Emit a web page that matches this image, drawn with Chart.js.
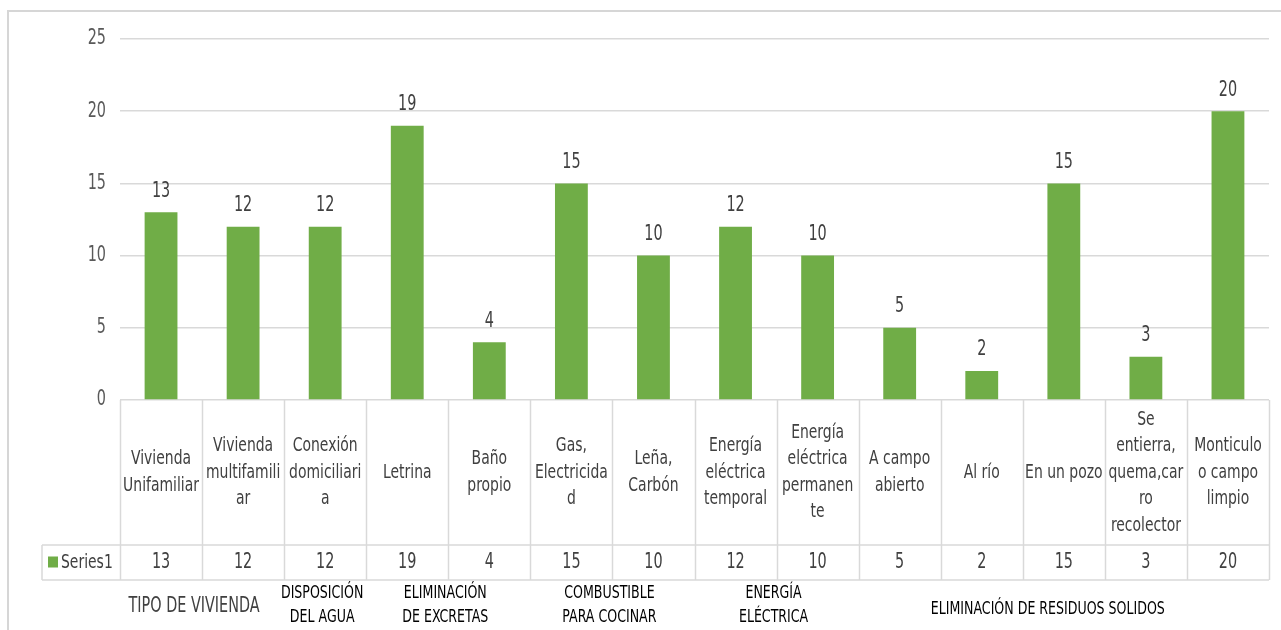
<!DOCTYPE html>
<html>
<head>
<meta charset="utf-8">
<script src="https://cdn.jsdelivr.net/npm/chart.js@4"></script>
<style>
  body { margin: 0; background: #fff; }
  #wrap { position: relative; width: 1281px; height: 630px; overflow: hidden; }
  #frame { position: absolute; left: 7px; top: 10px; width: 1300px; height: 700px; border: 2px solid #d6d6d6; box-sizing: border-box; }
  canvas { position: absolute; left: 0; top: 0; }
</style>
</head>
<body>
<div id="wrap">
  <div id="frame"></div>
  <canvas id="mychart" width="1281" height="630"></canvas>
</div>
<script>
var categories = [
  ["Vivienda", "Unifamiliar"],
  ["Vivienda", "multifamili", "ar"],
  ["Conexión", "domiciliari", "a"],
  ["Letrina"],
  ["Baño", "propio"],
  ["Gas,", "Electricida", "d"],
  ["Leña,", "Carbón"],
  ["Energía", "eléctrica", "temporal"],
  ["Energía", "eléctrica", "permanen", "te"],
  ["A campo", "abierto"],
  ["Al río"],
  ["En un pozo"],
  ["Se", "entierra,", "quema,car", "ro", "recolector"],
  ["Monticulo", "o campo", "limpio"]
]
var series1 = [13, 12, 12, 19, 4, 15, 10, 12, 10, 5, 2, 15, 3, 20]
var seriesName = "Series1"
var yTicks = [0, 5, 10, 15, 20, 25]

// group captions under the table: text lines, first and last category index
var groupLines = [
  ["TIPO DE VIVIENDA"],
  ["DISPOSICIÓN", "DEL AGUA"],
  ["ELIMINACIÓN", "DE EXCRETAS"],
  ["COMBUSTIBLE", "PARA COCINAR"],
  ["ENERGÍA", "ELÉCTRICA"],
  ["ELIMINACIÓN DE RESIDUOS SOLIDOS"]
]
var groupFrom = [0, 2, 3, 5, 7, 9]
var groupTo = [1, 2, 4, 6, 8, 13]

var FONT = '"Liberation Sans Narrow", "DejaVu Sans Condensed", "Open Sans", sans-serif'
var green = "#70ad47"
var lineCol = "#d9d9d9"
var SY = 1.28 // text is drawn a bit taller than wide

function tallText(ctx, t, x, y) {
  ctx.save()
  ctx.translate(x, y)
  ctx.scale(1, SY)
  ctx.fillText(t, 0, 0)
  ctx.restore()
}

var tablePlugin = {
  id: "dataTable",
  afterDatasetsDraw: function(chart) {
    var ctx = chart.ctx
    var x = chart.scales.x
    var y = chart.scales.y
    var area = chart.chartArea
    var meta = chart.getDatasetMeta(0)
    var step = (area.right - area.left) / categories.length
    var rowTop = area.bottom
    var rowMid = rowTop + 145
    var rowBot = rowMid + 35
    var legendLeft = 42

    ctx.save()
    ctx.textBaseline = "middle"

    // y axis numbers
    ctx.fillStyle = "#595959"
    ctx.font = "16px " + FONT
    ctx.textAlign = "right"
    yTicks.forEach(function(v) {
      tallText(ctx, v, 106, y.getPixelForValue(v))
    })

    // value labels above the bars
    ctx.fillStyle = "#404040"
    ctx.textAlign = "center"
    meta.data.forEach(function(bar, i) {
      tallText(ctx, series1[i], bar.x, bar.y - 21)
    })

    // table borders
    ctx.strokeStyle = lineCol
    ctx.lineWidth = 1.5
    ctx.beginPath()
    for (var i = 0; i <= categories.length; i++) {
      var lx = Math.round(area.left + i * step) + 0.5
      ctx.moveTo(lx, rowTop)
      ctx.lineTo(lx, rowBot)
    }
    ctx.moveTo(legendLeft, rowMid)
    ctx.lineTo(area.right, rowMid)
    ctx.moveTo(legendLeft, rowBot)
    ctx.lineTo(area.right, rowBot)
    ctx.moveTo(legendLeft, rowMid)
    ctx.lineTo(legendLeft, rowBot)
    ctx.stroke()

    // category names
    ctx.fillStyle = "#404040"
    ctx.font = "15.5px " + FONT
    var lh = 26.5
    categories.forEach(function(lines, i) {
      var cx = x.getPixelForValue(i)
      var cy = (rowTop + rowMid) / 2 - (lines.length - 1) * lh / 2
      lines.forEach(function(t, k) {
        tallText(ctx, t, cx, cy + k * lh)
      })
    })

    // series row
    ctx.font = "16px " + FONT
    var vy = (rowMid + rowBot) / 2
    series1.forEach(function(v, i) {
      tallText(ctx, v, x.getPixelForValue(i), vy)
    })
    ctx.fillStyle = green
    ctx.fillRect(48, vy - 6, 10, 11)
    ctx.fillStyle = "#404040"
    ctx.textAlign = "left"
    ctx.font = "15.5px " + FONT
    tallText(ctx, seriesName, 61, vy)

    // group captions
    ctx.textAlign = "center"
    groupLines.forEach(function(lines, g) {
      var gx = (x.getPixelForValue(groupFrom[g]) + x.getPixelForValue(groupTo[g])) / 2
      if (g === 0) {
        ctx.font = "16px " + FONT
        ctx.fillStyle = "#404040"
        tallText(ctx, lines[0], gx - 8, rowBot + 27)
      } else if (lines.length === 1) {
        ctx.font = "14px " + FONT
        ctx.fillStyle = "#000"
        tallText(ctx, lines[0], gx - 16, rowBot + 29)
      } else {
        ctx.font = "14px " + FONT
        ctx.fillStyle = "#000"
        tallText(ctx, lines[0], gx - 3, rowBot + 13)
        tallText(ctx, lines[1], gx - 3, rowBot + 37)
      }
    })
    ctx.restore()
  }
}

var mychart = document.getElementById("mychart").getContext("2d")
var chart = new Chart(mychart, {
  type: "bar",
  data: {
    labels: categories.map(function(c) { return c.join(" ") }),
    datasets: [{
      label: seriesName,
      data: series1,
      backgroundColor: green,
      barPercentage: 0.4,
      categoryPercentage: 1
    }]
  },
  options: {
    responsive: false,
    animation: false,
    layout: { padding: { left: 0, top: 39, right: 12, bottom: 230 } },
    plugins: { legend: { display: false }, tooltip: { enabled: false } },
    scales: {
      x: { display: false },
      y: {
        min: 0,
        max: 25,
        afterFit: function(s) { s.width = 120 },
        afterBuildTicks: function(s) { s.ticks = yTicks.map(function(v) { return { value: v } }) },
        grid: { color: lineCol, lineWidth: 1.5, drawTicks: false },
        border: { display: false },
        ticks: { display: false }
      }
    }
  },
  plugins: [tablePlugin]
})
</script>
</body>
</html>
